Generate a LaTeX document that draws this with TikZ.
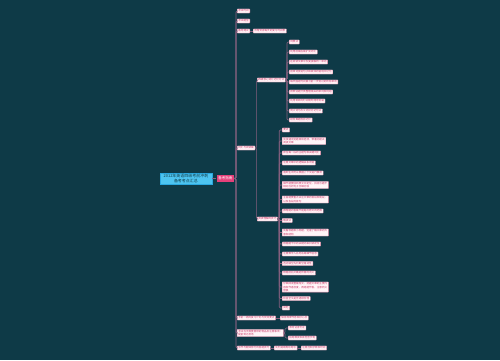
\documentclass[tikz,border=0pt]{standalone}
\usepackage{fontspec}
\usepackage{xcolor}
\newfontfamily\cjk{Noto Sans CJK SC}
\XeTeXlinebreaklocale "zh"
\definecolor{bgteal}{HTML}{0E3A47}
\definecolor{leafpink}{HTML}{E98DAA}
\definecolor{leaffill}{HTML}{FFF5F8}
\definecolor{leaftext}{HTML}{C93A68}
\definecolor{linkpurple}{HTML}{87607F}
\definecolor{rootblue}{HTML}{4DC4F0}
\definecolor{rootedge}{HTML}{2BA8E0}
\definecolor{hubpink}{HTML}{E5407A}

\tikzset{
  leaf/.style={draw=leafpink, fill=leaffill, text=leaftext, line width=0.3pt,
    font=\cjk\fontsize{2.2}{2.6}\selectfont, inner xsep=1pt, inner ysep=0.7pt,
    align=left, anchor=west, rounded corners=0.3pt},
  link/.style={draw=linkpurple, line width=0.5pt, rounded corners=1pt},
  spine/.style={link, line width=0.8pt},
}

\begin{document}
\begin{tikzpicture}[x=0.03cm, y=-0.03cm]

  \fill[bgteal] (0,0) rectangle (500,360);
  \useasboundingbox (0,0) rectangle (500,360);

  % ---- centre: root and hub ----
  \node[draw=rootedge, fill=rootblue, text=bgteal, line width=0.3pt,
    font=\cjk\fontsize{3.4}{4}\selectfont, inner xsep=3pt, inner ysep=1.4pt,
    align=center, anchor=east] (root) at (212,178.5)
    {2012年英语四级考前冲刺\\备考考点汇总};
  \node[fill=hubpink, text=white, font=\cjk\fontsize{3}{3.5}\selectfont,
    inner xsep=1.5pt, inner ysep=1.2pt, anchor=east] (hub) at (234.5,178.5) {备考指南};
  \draw[link] (root.east) -- (hub.west);

  % ---- top branches ----
  \node[leaf] (t1) at (237,11) {考试时间};
  \node[leaf] (t2) at (237,21) {考试题型};
  \node[leaf] (t3) at (237,31) {备考建议};
  \node[leaf] (t3a) at (253,31) {合理安排每天的复习时间表};
  \draw[link] (t3.east) -- (t3a.west);

  % ---- middle branch ----
  \node[leaf] (A) at (237,148) {词汇与阅读篇};
  \node[leaf] (B) at (257,80) {四级核心词汇记忆方法};
  \node[leaf] (C) at (257,219) {阅读理解的技巧};
  \draw[link] (A.east) -- ++(1.5,0) |- (B.west);
  \draw[link] (A.east) -- ++(1.5,0) |- (C.west);

  % vocabulary
  \node[leaf] (b1) at (289,42) {词根法};
  \node[leaf] (b2) at (289,52) {利用前缀后缀扩充词汇};
  \node[leaf] (b3) at (289,62) {在阅读文章中反复接触同一单词};
  \node[leaf] (b4) at (289,72) {把单词放进句子和具体的语境中记忆};
  \node[leaf] (b5) at (289,82) {每天固定时间复习前一天背过的所有单词};
  \node[leaf] (b6) at (289,92) {按照话题分类整理相关的单词和词组};
  \node[leaf] (b7) at (289,101) {利用零碎的时间随时随地背诵};
  \node[leaf] (b8) at (289,111) {同义词与反义词对比记忆法};
  \node[leaf] (b9) at (289,120) {结合真题检验记忆};
  \foreach \k in {b1,b2,b3,b4,b5,b6,b7,b8,b9}
    \draw[link] (B.east) -- ++(1.5,0) |- (\k.west);

  % reading
  \node[leaf] (c1) at (282,130) {要点};
  \node[leaf] (c2) at (282,141) {先快速浏览题目和选项，带着问题去\\阅读文章};
  \node[leaf] (c3) at (282,153) {抓住每一段的主题句和关键词汇};
  \node[leaf] (c4) at (282,163) {注意文章中的逻辑关系词语};
  \node[leaf] (c5) at (282,173) {遇到生词可以根据上下文进行推测};
  \node[leaf] (c6) at (282,185) {细节题要回到原文中定位，找出与题干\\相对应的句子仔细比较};
  \node[leaf] (c7) at (282,199.5) {主旨题要重点关注文章的首段和尾段，\\以及各段的首句};
  \node[leaf] (c8) at (282,211) {推理题的答案不能超出原文的范围};
  \node[leaf] (c9) at (282,220.5) {略读法};
  \node[leaf] (c10) at (282,232.5) {先看标题和小标题，迅速了解文章的大\\意和结构};
  \node[leaf] (c11) at (282,244) {根据题干中的关键词来扫读定位};
  \node[leaf] (c12) at (282,254) {注意数字人名地名等细节信息};
  \node[leaf] (c13) at (282,263.5) {选词填空先判断空格词性};
  \node[leaf] (c14) at (282,273) {根据前后文确定所需的词义};
  \node[leaf] (c15) at (282,287) {仔细阅读整篇短文，把握文章的主要内\\容和作者态度，再逐题作答，注意同义\\替换};
  \node[leaf] (c16) at (282,298.5) {检查全文是否通顺合理};
  \node[leaf] (c17) at (282,308) {其他};
  \foreach \k in {c1,c2,c3,c4,c5,c6,c7,c8,c9,c10,c11,c12,c13,c14,c15,c16,c17}
    \draw[link] (C.east) -- ++(1.5,0) |- (\k.west);

  % ---- bottom branches ----
  \node[leaf] (d1) at (237,318) {考前一周的复习计划与安排要点};
  \node[leaf] (d1a) at (280,318) {保持规律作息和好心态};
  \draw[link] (d1.east) -- (d1a.west);

  \node[leaf] (d2) at (237,333) {考试当天需要携带的物品及注意事项：\\提前到达考场};
  \node[leaf] (d2a) at (288,328) {准考证身份证};
  \node[leaf] (d2b) at (288,338) {铅笔橡皮和黑色签字笔};
  \draw[link] (d2.east) -- ++(1.5,0) |- (d2a.west);
  \draw[link] (d2.east) -- ++(1.5,0) |- (d2b.west);

  \node[leaf] (d3) at (237,348) {写作与翻译部分的答题技巧};
  \node[leaf] (d3a) at (274,348) {先列提纲再动笔写};
  \node[leaf] (d3b) at (301,348) {注意控制字数和时间};
  \draw[link] (d3.east) -- (d3a.west);
  \draw[link] (d3a.east) -- (d3b.west);

  % ---- spine from hub ----
  \foreach \k in {t1,t2,t3,A,d1,d2,d3}
    \draw[spine] (hub.east) -- ++(1.5,0) |- (\k.west);

\end{tikzpicture}
\end{document}
